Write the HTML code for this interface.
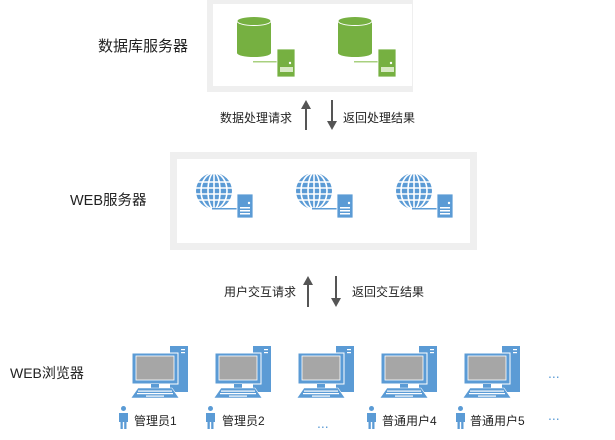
<!DOCTYPE html>
<html><head><meta charset="utf-8"><style>
html,body{margin:0;padding:0;background:#fff;}
svg{display:block;}
text{font-family:"Liberation Sans","Noto Sans CJK SC",sans-serif;fill:#222;}
</style></head><body>
<svg width="615" height="440" viewBox="0 0 615 440" xmlns="http://www.w3.org/2000/svg" font-size="12">
<defs>
<g id="db">
  <rect x="0" y="5" width="34" height="32" fill="#76b041"/>
  <ellipse cx="17" cy="37" rx="17" ry="4" fill="#76b041"/>
  <ellipse cx="17" cy="5" rx="17" ry="4.5" fill="#76b041" stroke="#fff" stroke-width="1"/>
  <rect x="16" y="45" width="24" height="1.5" fill="#a8d07f"/>
  <rect x="40" y="33" width="18" height="28" fill="#76b041" stroke="#fff" stroke-width="0.8"/>
  <circle cx="53" cy="47" r="1.2" fill="#fff"/>
  <rect x="43" y="51" width="13" height="5" fill="#d8eac4"/>
</g>
<g id="web">
  <circle cx="19" cy="19" r="18" fill="#5b9bd5"/>
  <g stroke="#fff" stroke-width="1.6" fill="none">
    <line x1="1" y1="10" x2="37" y2="10"/><line x1="1" y1="16" x2="37" y2="16"/><line x1="1" y1="22" x2="37" y2="22"/><line x1="1" y1="28" x2="37" y2="28"/>
    <ellipse cx="19" cy="19" rx="6" ry="18"/><ellipse cx="19" cy="19" rx="13" ry="18"/><line x1="19" y1="1" x2="19" y2="37"/>
  </g>
  <rect x="17" y="36" width="25" height="1.5" fill="#5b9bd5"/>
  <rect x="42" y="22" width="16" height="24" fill="#5b9bd5" stroke="#fff" stroke-width="0.8"/>
  <circle cx="54" cy="31" r="1.2" fill="#fff"/>
  <rect x="45" y="35" width="10" height="1.5" fill="#fff"/><rect x="45" y="38" width="10" height="1.5" fill="#fff"/><rect x="45" y="41" width="10" height="1.5" fill="#fff"/>
</g>
<g id="pc">
  <rect x="38" y="-7" width="18" height="46" fill="#5b9bd5"/>
  <rect x="49" y="-4" width="4" height="1.2" fill="#fff"/><rect x="49" y="-1" width="4" height="1.2" fill="#fff"/>
  <rect x="0" y="0" width="46" height="31" fill="#5b9bd5" stroke="#fff" stroke-width="1"/>
  <rect x="4" y="3" width="38" height="24" fill="#a6a6a6" stroke="#fff" stroke-width="0.8"/>
  <rect x="19" y="31" width="8" height="4" fill="#5b9bd5"/>
  <polygon points="6,35 40,35 47,45 -1,45" fill="#5b9bd5" stroke="#fff" stroke-width="0.6"/>
  <g fill="#fff"><rect x="6" y="37.5" width="34" height="1.2"/><rect x="5" y="40" width="36" height="1.2"/><rect x="14" y="42.5" width="18" height="1.2"/></g>
</g>
<g id="person">
  <circle cx="4.5" cy="2.5" r="2.5" fill="#5b9bd5"/>
  <path d="M0,7 h9 v9 h-1.5 v7 h-2.3 v-7 h-1.4 v7 h-2.3 v-7 h-1.5 z" fill="#5b9bd5"/>
</g>
</defs>

<rect x="207" y="0" width="206" height="92" fill="#efefef"/>
<rect x="213" y="4" width="199" height="82" fill="#fff"/>
<use href="#db" x="237" y="16"/>
<use href="#db" x="338" y="16"/>
<text x="98" y="51" font-size="15">数据库服务器</text>

<line x1="306" y1="130" x2="306" y2="108" stroke="#555" stroke-width="2"/>
<polygon points="306,100 301,109 311,109" fill="#555"/>
<line x1="332" y1="100" x2="332" y2="122" stroke="#555" stroke-width="2"/>
<polygon points="332,130 327,121 337,121" fill="#555"/>
<text x="292" y="122" text-anchor="end">数据处理请求</text>
<text x="343" y="122">返回处理结果</text>

<rect x="170" y="152" width="307" height="98" fill="#efefef"/>
<rect x="177" y="159" width="293" height="84" fill="#fff"/>
<use href="#web" x="195" y="172"/>
<use href="#web" x="295" y="172"/>
<use href="#web" x="395" y="172"/>
<text x="70" y="205" font-size="14.5">WEB服务器</text>

<line x1="308" y1="307" x2="308" y2="284" stroke="#555" stroke-width="2"/>
<polygon points="308,276 303,285 313,285" fill="#555"/>
<line x1="336" y1="276" x2="336" y2="299" stroke="#555" stroke-width="2"/>
<polygon points="336,307 331,298 341,298" fill="#555"/>
<text x="296" y="296" text-anchor="end">用户交互请求</text>
<text x="352" y="296">返回交互结果</text>

<text x="10" y="378" font-size="14">WEB浏览器</text>
<use href="#pc" x="132" y="353"/>
<use href="#pc" x="215" y="353"/>
<use href="#pc" x="298" y="353"/>
<use href="#pc" x="381" y="353"/>
<use href="#pc" x="464" y="353"/>
<text x="548" y="378" font-size="14" style="fill:#5b9bd5">...</text>

<use href="#person" x="119" y="406"/>
<text x="134" y="425">管理员1</text>
<use href="#person" x="206" y="406"/>
<text x="222" y="425">管理员2</text>
<text x="317" y="428" font-size="14" style="fill:#5b9bd5">...</text>
<use href="#person" x="367" y="406"/>
<text x="382" y="425">普通用户4</text>
<use href="#person" x="456" y="406"/>
<text x="470" y="425">普通用户5</text>
<text x="548" y="420" font-size="14" style="fill:#5b9bd5">...</text>
</svg>
</body></html>
